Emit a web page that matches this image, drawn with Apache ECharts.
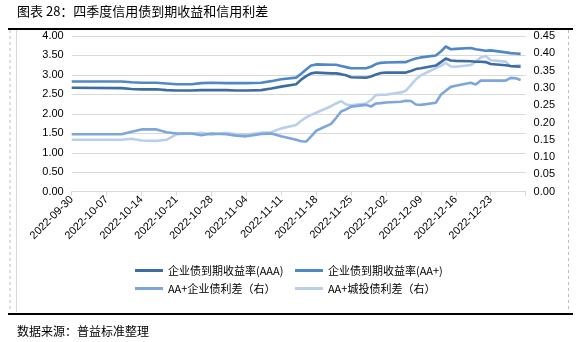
<!DOCTYPE html>
<html><head><meta charset="utf-8">
<script src="https://cdn.jsdelivr.net/npm/echarts@6/dist/echarts.min.js"></script>
<style>html,body{margin:0;padding:0;background:#fff}#c{width:581px;height:342px}</style>
</head><body><div id="c"></div>
<script>
var dates = ['2022-09-30','2022-10-10','2022-10-12','2022-10-14','2022-10-17','2022-10-19','2022-10-21','2022-10-24','2022-10-26','2022-10-28','2022-10-31','2022-11-02','2022-11-04','2022-11-07','2022-11-09','2022-11-11','2022-11-14','2022-11-15','2022-11-16','2022-11-17','2022-11-18','2022-11-21','2022-11-22','2022-11-23','2022-11-24','2022-11-25','2022-11-28','2022-11-29','2022-11-30','2022-12-01','2022-12-02','2022-12-05','2022-12-06','2022-12-07','2022-12-08','2022-12-09','2022-12-12','2022-12-13','2022-12-14','2022-12-15','2022-12-16','2022-12-19','2022-12-20','2022-12-21','2022-12-22','2022-12-23','2022-12-26','2022-12-27','2022-12-28','2022-12-29'];
var yieldAAA = [2.67,2.66,2.64,2.63,2.63,2.61,2.60,2.60,2.61,2.61,2.61,2.60,2.60,2.61,2.65,2.70,2.76,2.88,2.97,3.04,3.06,3.04,3.04,3.02,2.99,2.94,2.93,2.96,3.01,3.05,3.06,3.06,3.06,3.10,3.15,3.17,3.24,3.33,3.42,3.37,3.36,3.35,3.34,3.34,3.33,3.28,3.25,3.23,3.22,3.21];
var yieldAAp = [2.83,2.83,2.81,2.80,2.80,2.78,2.76,2.76,2.79,2.80,2.79,2.79,2.79,2.80,2.84,2.89,2.93,3.03,3.14,3.24,3.27,3.26,3.26,3.23,3.20,3.17,3.17,3.21,3.28,3.31,3.32,3.33,3.33,3.38,3.42,3.45,3.50,3.60,3.73,3.66,3.67,3.69,3.66,3.64,3.62,3.63,3.58,3.56,3.55,3.54];
var spreadCorp = [0.166,0.166,0.173,0.180,0.180,0.172,0.168,0.168,0.163,0.168,0.166,0.162,0.160,0.167,0.168,0.160,0.150,0.146,0.145,0.160,0.176,0.196,0.213,0.232,0.238,0.246,0.251,0.246,0.255,0.256,0.258,0.260,0.263,0.262,0.252,0.251,0.257,0.280,0.292,0.303,0.306,0.315,0.310,0.321,0.321,0.321,0.321,0.329,0.328,0.323];
var spreadLGFV = [0.150,0.150,0.153,0.148,0.147,0.150,0.166,0.168,0.170,0.165,0.170,0.166,0.165,0.170,0.172,0.183,0.193,0.205,0.215,0.222,0.228,0.247,0.255,0.262,0.252,0.250,0.255,0.265,0.279,0.280,0.280,0.287,0.292,0.308,0.325,0.336,0.357,0.364,0.372,0.362,0.361,0.366,0.376,0.388,0.392,0.380,0.376,0.362,0.364,0.366];
var seriesNames = ['企业债到期收益率(AAA)','企业债到期收益率(AA+)','AA+企业债利差（右）','AA+城投债利差（右）'];
var leftTicks = {min:0, max:4, interval:0.5};
var rightTicks = {min:0, max:0.45, interval:0.05};
var startDate = '2022-09-30', endDate = '2022-12-30';

function dayOf(s){var p=s.split('-');var b=startDate.split('-');
  return Math.round((Date.UTC(+p[0],p[1]-1,+p[2])-Date.UTC(+b[0],b[1]-1,+b[2]))/86400000);}
function labelOf(d){var b=startDate.split('-');var t=new Date(Date.UTC(+b[0],b[1]-1,+b[2])+d*86400000);
  var m=t.getUTCMonth()+1, dd=t.getUTCDate();return t.getUTCFullYear()+'-'+(m<10?'0':'')+m+'-'+(dd<10?'0':'')+dd;}
function pairs(v){return dates.map(function(d,i){return [dayOf(d), v[i]];});}

var colors = ['#3D6DA2','#4F88C6','#7DA7DB','#B9D0EC'];
var chart = echarts.init(document.getElementById('c'), null, {renderer:'canvas'});
var numFont = 'Liberation Sans';
var cjk = '"Noto Sans CJK SC"';
function lg(i, left, top){return {data:[seriesNames[i]], left:left, top:top, itemWidth:28, itemHeight:3, itemGap:0,
  icon:'rect', textStyle:{fontFamily:cjk, fontSize:11, color:'#000'}, selectedMode:false, padding:0};}
var maxDay = dayOf(endDate);
chart.setOption({
  animation:false,
  color: colors,
  grid:{left:71.7, right:581-(71.7+maxDay*4.988), top:36, bottom:150.3, containLabel:false},
  legend:[lg(0,135,265), lg(1,295,265), lg(2,135,283), lg(3,295,283)],
  xAxis:{type:'value', min:0, max:maxDay, interval:7,
    axisLine:{show:true, lineStyle:{color:'#D9D9D9', width:1}},
    axisTick:{show:true, length:4, lineStyle:{color:'#D9D9D9'}},
    splitLine:{show:false},
    axisLabel:{rotate:45, fontFamily:numFont, fontSize:11, color:'#000', margin:6,
      formatter:function(v){return v>=maxDay?'':labelOf(v);}}},
  yAxis:[
    {type:'value', min:leftTicks.min, max:leftTicks.max, interval:leftTicks.interval,
     axisLine:{show:false}, axisTick:{show:false},
     splitLine:{lineStyle:{color:'#D9D9D9', width:1}},
     axisLabel:{fontFamily:numFont, fontSize:11, color:'#000', margin:8, formatter:function(v){return v.toFixed(2);}}},
    {type:'value', min:rightTicks.min, max:rightTicks.max, interval:rightTicks.interval,
     axisLine:{show:false}, axisTick:{show:false}, splitLine:{show:false},
     axisLabel:{fontFamily:numFont, fontSize:11, color:'#000', margin:8, formatter:function(v){return v.toFixed(2);}}}
  ],
  series:[
    {name:seriesNames[3], type:'line', yAxisIndex:1, data:pairs(spreadLGFV), showSymbol:false, lineStyle:{width:2.6, color:colors[3]}, itemStyle:{color:colors[3]}, z:2},
    {name:seriesNames[2], type:'line', yAxisIndex:1, data:pairs(spreadCorp), showSymbol:false, lineStyle:{width:2.6, color:colors[2]}, itemStyle:{color:colors[2]}, z:3},
    {name:seriesNames[1], type:'line', yAxisIndex:0, data:pairs(yieldAAp), showSymbol:false, lineStyle:{width:2.6, color:colors[1]}, itemStyle:{color:colors[1]}, z:4},
    {name:seriesNames[0], type:'line', yAxisIndex:0, data:pairs(yieldAAA), showSymbol:false, lineStyle:{width:2.6, color:colors[0]}, itemStyle:{color:colors[0]}, z:5}
  ],
  graphic:[
    {type:'text', left:17, top:5, style:{text:'图表 28：四季度信用债到期收益和信用利差', font:'13px "Noto Sans CJK SC"', fill:'#000'}},
    {type:'line', shape:{x1:8, y1:29, x2:573, y2:29}, style:{stroke:'#000', lineWidth:2}},
    {type:'line', shape:{x1:10, y1:30, x2:10, y2:312}, style:{stroke:'#BFBFBF', lineWidth:1, lineDash:[3,3]}},
    {type:'line', shape:{x1:16.5, y1:30, x2:16.5, y2:312}, style:{stroke:'#D9D9D9', lineWidth:1}},
    {type:'line', shape:{x1:568.5, y1:30, x2:568.5, y2:312}, style:{stroke:'#BFBFBF', lineWidth:1, lineDash:[3,3]}},
    {type:'line', shape:{x1:8, y1:314, x2:573, y2:314}, style:{stroke:'#000', lineWidth:2}},
    {type:'text', left:17, top:325, style:{text:'数据来源：普益标准整理', font:'12px "Noto Sans CJK SC"', fill:'#000'}}
  ]
});
</script></body></html>
